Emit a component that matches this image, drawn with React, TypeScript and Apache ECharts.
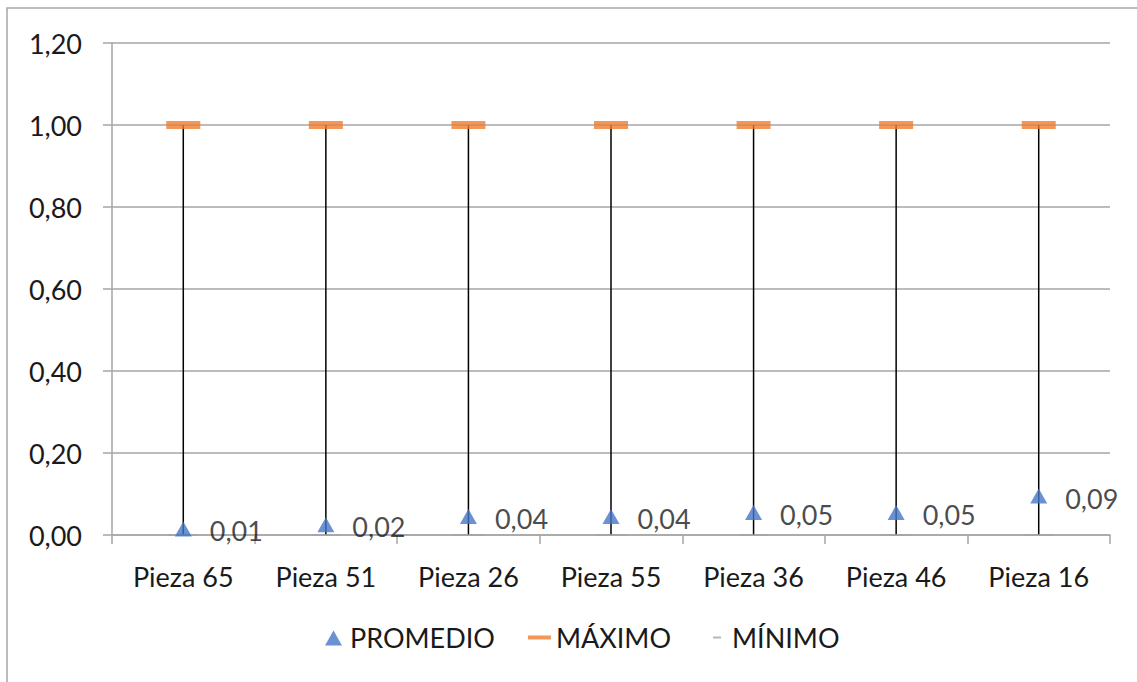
import React, { useEffect, useRef } from "react";
import * as echarts from "echarts";

const categories = ["Pieza 65", "Pieza 51", "Pieza 26", "Pieza 55", "Pieza 36", "Pieza 46", "Pieza 16"];
const promedio = [0.01, 0.02, 0.04, 0.04, 0.05, 0.05, 0.09];
const maximo = [1, 1, 1, 1, 1, 1, 1];
const minimo = [0, 0, 0, 0, 0, 0, 0];

const FONT = "Lato, 'Open Sans', sans-serif";
const FS = 27;
const TXT = "#1a1a1a";
const BLUE = "#4577c8";
const fmt = (v: number) => v.toFixed(2).replace(".", ",");

export default function App() {
  const ref = useRef<HTMLDivElement>(null);
  useEffect(() => {
    document.body.style.margin = "0";
    const chart = echarts.init(ref.current!, undefined, { renderer: "svg" });
    const hl = categories.map((_, i) => [i, minimo[i], maximo[i]]);
    chart.setOption({
      animation: false,
      backgroundColor: "#ffffff",
      textStyle: { fontFamily: FONT },
      graphic: [
        {
          type: "rect",
          shape: { x: 7, y: 8, width: 1140, height: 690 },
          style: { fill: "none", stroke: "#a6a6a6", lineWidth: 1.5 },
          silent: true,
        },
      ],
      grid: { left: 112, right: 27, top: 43, bottom: 147 },
      legend: {
        bottom: 26,
        left: 317,
        itemGap: 33,
        itemWidth: 23,
        itemHeight: 20,
        textStyle: { fontSize: FS, color: TXT, fontFamily: FONT },
        data: [
          { name: "PROMEDIO", icon: "path://M0,0 M23,20 M3,18 L11.5,3 L20,18 Z", itemStyle: { color: BLUE } },
          { name: "MÁXIMO", icon: "path://M0,0 M23,20 M0,8 L23,8 L23,12 L0,12 Z", itemStyle: { color: "#ed7d31" } },
          { name: "MÍNIMO", icon: "path://M0,0 M23,20 M9,9 L17,9 L17,11 L9,11 Z", itemStyle: { color: "#a5a5a5" } },
        ],
      },
      xAxis: {
        type: "category",
        data: categories,
        boundaryGap: true,
        axisLine: { lineStyle: { color: "#a6a6a6", width: 1.5 } },
        axisTick: { show: true, length: 9, lineStyle: { color: "#a6a6a6", width: 1.5 } },
        axisLabel: { fontSize: FS, color: TXT, margin: 28, fontFamily: FONT },
      },
      yAxis: {
        type: "value",
        min: 0,
        max: 1.2,
        interval: 0.2,
        axisLine: { show: true, lineStyle: { color: "#a6a6a6", width: 1.5 } },
        axisTick: { show: true, length: 9, lineStyle: { color: "#a6a6a6", width: 1.5 } },
        splitLine: { lineStyle: { color: "#a6a6a6", width: 1.5 } },
        axisLabel: { fontSize: FS, color: TXT, margin: 30, fontFamily: FONT, formatter: (v: number) => fmt(v) },
      },
      series: [
        {
          type: "custom",
          name: "hl",
          data: hl,
          encode: { x: 0, y: [1, 2] },
          z: 1,
          silent: true,
          renderItem: (params: any, api: any) => {
            const a = api.coord([api.value(0), api.value(1)]);
            const b = api.coord([api.value(0), api.value(2)]);
            return {
              type: "line",
              shape: { x1: a[0], y1: a[1], x2: b[0], y2: b[1] },
              style: { stroke: "#000000", lineWidth: 1.5 },
            };
          },
        },
        {
          type: "scatter",
          name: "MÍNIMO",
          data: minimo,
          symbol: "rect",
          symbolSize: [30, 2],
          itemStyle: { color: "#a5a5a5" },
          z: 3,
        },
        {
          type: "scatter",
          name: "MÁXIMO",
          data: maximo,
          symbol: "rect",
          symbolSize: [34, 8],
          itemStyle: { color: "#ed7d31" },
          z: 3,
        },
        {
          type: "scatter",
          name: "PROMEDIO",
          data: promedio,
          symbol: "triangle",
          symbolSize: [17, 15],
          symbolOffset: [0, -2],
          itemStyle: { color: BLUE },
          z: 4,
          label: {
            show: true,
            position: "right",
            distance: 18,
            offset: [0, 2],
            fontSize: FS,
            color: TXT,
            fontFamily: FONT,
            formatter: (p: any) => fmt(p.value),
          },
        },
      ],
    });
    return () => chart.dispose();
  }, []);
  return <div ref={ref} style={{ width: 1137, height: 682 }} />;
}
